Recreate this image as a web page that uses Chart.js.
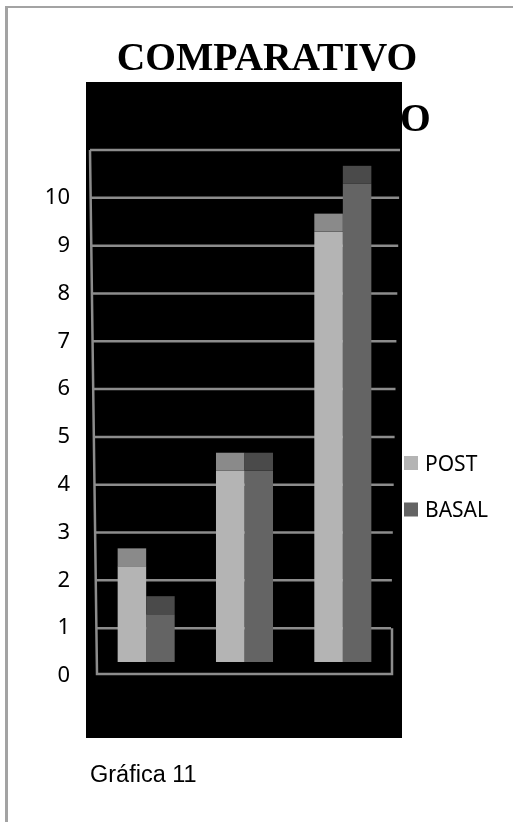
<!DOCTYPE html>
<html>
<head>
<meta charset="utf-8">
<title>Comparativo</title>
<script src="https://cdn.jsdelivr.net/npm/chart.js@4"></script>
<style>
  html, body { margin: 0; padding: 0; background: #fff; }
  body { width: 513px; height: 822px; position: relative; overflow: hidden; }
  .frame {
    position: absolute; left: 5px; top: 6px; width: 700px; height: 1000px;
    border-left: 3px solid #a3a3a3; border-top: 2px solid #a3a3a3;
  }
  #chart { position: absolute; left: 0; top: 0; }
</style>
</head>
<body>
<div class="frame"></div>
<canvas id="chart" width="513" height="822"></canvas>
<script>
// Chart data
const categories = ['1', '2', '3'];
const seriesNames = ['POST', 'BASAL'];
const postValues = [2, 4, 9];
const basalValues = [1, 4, 10];
const yTickLabels = [0, 1, 2, 3, 4, 5, 6, 7, 8, 9, 10];

const titleLine1 = 'COMPARATIVO';
const titleLine2 = 'O';
const caption = 'Gráfica 11';

// Colours: front face / top face of each series
const frontColors = ['#b4b4b4', '#646464'];
const capColors = ['#8a8a8a', '#4a4a4a'];
const gridColor = '#8c8c8c';

const CAP = 18;    // height of the bar top faces
const DEPTH = 14;  // vertical offset of the back wall from the bar plane

// Black panel, wall, floor and grid drawn behind the bars
const wallPlugin = {
  id: 'wall',
  beforeDraw(chart) {
    const ctx = chart.ctx;
    ctx.save();
    ctx.fillStyle = '#000';
    ctx.fillRect(86, 82, 316, 656);

    ctx.font = 'bold 39.5px "Liberation Serif", "Times New Roman", serif';
    ctx.fillStyle = '#000';
    ctx.textBaseline = 'alphabetic';
    ctx.textAlign = 'center';
    ctx.fillText(titleLine1, 267, 70);
    ctx.textAlign = 'left';
    ctx.fillText(titleLine2, 400, 131);

    ctx.font = '23.5px "Liberation Sans", Arial, sans-serif';
    ctx.fillText(caption, 90, 782);
    ctx.restore();
  },
  beforeDatasetsDraw(chart) {
    const ctx = chart.ctx;
    const ys = chart.scales.y;
    const area = chart.chartArea;
    const topY = ys.getPixelForValue(11) + DEPTH;
    const floorBack = ys.getPixelForValue(1) + DEPTH;
    const floorFront = ys.getPixelForValue(0) + DEPTH - 2;
    const leftTop = area.left - 7, leftBottom = area.left;
    const rightTop = area.right + 8, rightBottom = area.right - 1;
    const lx = y => leftTop + (leftBottom - leftTop) * (y - topY) / (floorFront - topY);
    const rx = y => rightTop + (rightBottom - rightTop) * (y - topY) / (floorBack - topY);

    ctx.save();
    ctx.strokeStyle = gridColor;
    ctx.lineWidth = 2.5;
    ctx.beginPath();
    for (let v = 1; v <= 11; v++) {
      const y = ys.getPixelForValue(v) + DEPTH;
      ctx.moveTo(lx(y), y);
      ctx.lineTo(rx(y), y);
    }
    // left wall edge
    ctx.moveTo(leftTop, topY);
    ctx.lineTo(leftBottom, floorFront);
    // floor
    ctx.lineTo(area.right, floorFront);
    ctx.lineTo(area.right, floorBack);
    ctx.stroke();
    ctx.restore();
  },
  afterDatasetsDraw(chart) {
    const ctx = chart.ctx;
    ctx.save();
    chart.data.datasets.forEach((ds, i) => {
      const meta = chart.getDatasetMeta(i);
      ctx.fillStyle = capColors[i];
      meta.data.forEach(bar => {
        ctx.fillRect(bar.x - bar.width / 2, bar.y - CAP, bar.width, CAP);
      });
    });

    // legend
    ctx.font = '21px "Noto Sans", sans-serif';
    ctx.textBaseline = 'alphabetic';
    ctx.textAlign = 'left';
    chart.data.datasets.forEach((ds, i) => {
      const y = 456 + i * 46.5;
      ctx.fillStyle = ds.backgroundColor;
      ctx.fillRect(404, y, 14, 14);
      ctx.fillStyle = '#000';
      ctx.fillText(ds.label, 425, y + 14.5);
    });
    ctx.restore();
  }
};

new Chart(document.getElementById('chart'), {
  type: 'bar',
  data: {
    labels: categories,
    datasets: [
      { label: seriesNames[0], data: postValues, backgroundColor: frontColors[0] },
      { label: seriesNames[1], data: basalValues, backgroundColor: frontColors[1] }
    ]
  },
  options: {
    responsive: false,
    animation: false,
    devicePixelRatio: 1,
    layout: { padding: { left: 0, right: 121, top: 136, bottom: 160 } },
    datasets: { bar: { categoryPercentage: 0.58, barPercentage: 1, borderWidth: 0 } },
    plugins: {
      legend: { display: false },
      title: { display: false },
      tooltip: { enabled: false }
    },
    scales: {
      x: { display: false },
      y: {
        min: 0,
        max: 11,
        afterFit(scale) { scale.width = 97; },
        grid: { display: false, drawTicks: false },
        border: { display: false },
        ticks: {
          stepSize: 1,
          padding: 27,
          labelOffset: DEPTH,
          color: '#000',
          font: { family: '"Noto Sans", sans-serif', size: 22 },
          callback: v => (yTickLabels.includes(v) ? String(v) : '')
        }
      }
    }
  },
  plugins: [wallPlugin]
});
</script>
</body>
</html>
